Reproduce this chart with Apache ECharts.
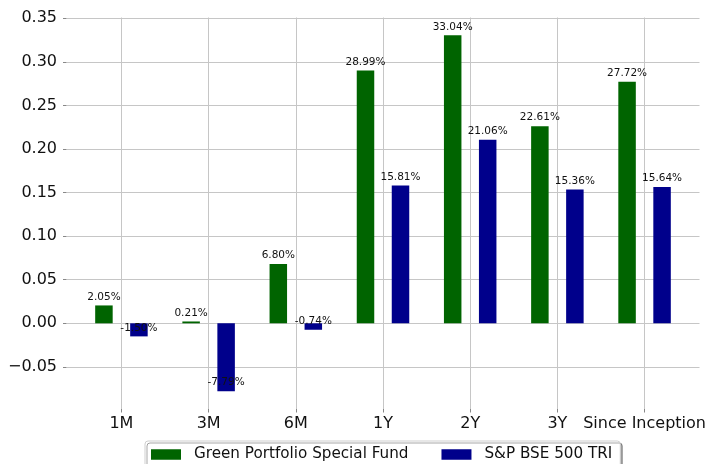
<!DOCTYPE html>
<html>
<head>
<meta charset="utf-8">
<script src="https://cdn.jsdelivr.net/npm/echarts@6/dist/echarts.min.js"></script>
<style>
html,body{margin:0;padding:0;background:#fff;}
#chart{width:712px;height:464px;}
</style>
</head>
<body>
<div id="chart"></div>
<script>
var categories = ['1M', '3M', '6M', '1Y', '2Y', '3Y', 'Since Inception'];
var fundValues = [0.0205, 0.0021, 0.0680, 0.2899, 0.3304, 0.2261, 0.2772];
var benchValues = [-0.0150, -0.0779, -0.0074, 0.1581, 0.2106, 0.1536, 0.1564];
var yTicks = [-0.05, 0, 0.05, 0.10, 0.15, 0.20, 0.25, 0.30, 0.35];
var seriesNames = ['Green Portfolio Special Fund', 'S&P BSE 500 TRI'];

var FONT = '"DejaVu Sans", sans-serif';
var GRID_COLOR = '#c6c6c6';
var xIdx = categories.map(function (c, i) { return i; });

function barData(vals) {
  return vals.map(function (v, i) {
    return {
      value: [i, v],
      label: v < 0 ? { position: 'insideBottom', distance: 3 } : { position: 'top', distance: 3 }
    };
  });
}

var gridLines = {
  silent: true,
  symbol: 'none',
  z: 0,
  label: { show: false },
  emphasis: { disabled: true },
  lineStyle: { color: GRID_COLOR, width: 1, type: 'solid' },
  data: yTicks.map(function (t) { return { yAxis: t }; })
    .concat(xIdx.map(function (i) { return { xAxis: i }; }))
};

var labelCfg = {
  show: true,
  fontFamily: FONT,
  fontSize: 10.5,
  color: '#111',
  formatter: function (p) { return (p.value[1] * 100).toFixed(2) + '%'; }
};

var option = {
  animation: false,
  backgroundColor: '#fff',
  grid: { left: 66.5, right: 12.5, top: 17.5, bottom: 55 },
  xAxis: {
    type: 'value',
    min: -0.63,
    max: 6.63,
    axisLine: { show: false, onZero: false },
    splitLine: { show: false },
    axisTick: { show: true, customValues: xIdx, length: 3.5, lineStyle: { color: '#888' } },
    axisLabel: {
      customValues: xIdx,
      margin: 7,
      fontFamily: FONT,
      fontSize: 16,
      color: '#111',
      formatter: function (v) { return categories[Math.round(v)]; }
    }
  },
  yAxis: {
    type: 'value',
    min: -0.0983,
    max: 0.3508,
    axisLine: { show: false, onZero: false },
    splitLine: { show: false },
    axisTick: { show: true, customValues: yTicks, length: 3.5, lineStyle: { color: '#888' } },
    axisLabel: {
      customValues: yTicks,
      margin: 9.5,
      fontFamily: FONT,
      fontSize: 16,
      color: '#111',
      formatter: function (v) { return v.toFixed(2).replace('-', '\u2212'); }
    }
  },
  legend: {
    left: 145,
    top: 441,
    orient: 'horizontal',
    padding: [6, 8, 8, 6],
    itemWidth: 30,
    itemHeight: 10.5,
    itemGap: 33,
    backgroundColor: '#fff',
    borderColor: '#cfcfcf',
    borderWidth: 1,
    borderRadius: 3,
    shadowColor: 'rgba(0,0,0,0.35)',
    shadowBlur: 0,
    shadowOffsetX: 2,
    shadowOffsetY: 2,
    icon: 'rect',
    textStyle: { fontFamily: FONT, fontSize: 15.2, color: '#111', padding: [0, 0, 0, 8] },
    data: seriesNames
  },
  series: [
    {
      name: 'grid',
      type: 'line',
      data: [],
      silent: true,
      z: 0,
      markLine: gridLines
    },
    {
      name: seriesNames[0],
      type: 'bar',
      z: 2,
      barWidth: 17.5,
      barGap: '100%',
      itemStyle: { color: '#006400' },
      label: labelCfg,
      data: barData(fundValues)
    },
    {
      name: seriesNames[1],
      type: 'bar',
      z: 2,
      barWidth: 17.5,
      barGap: '100%',
      itemStyle: { color: '#00008b' },
      label: labelCfg,
      data: barData(benchValues)
    }
  ]
};

var chart = echarts.init(document.getElementById('chart'), null, { renderer: 'canvas' });
chart.setOption(option);
</script>
</body>
</html>
